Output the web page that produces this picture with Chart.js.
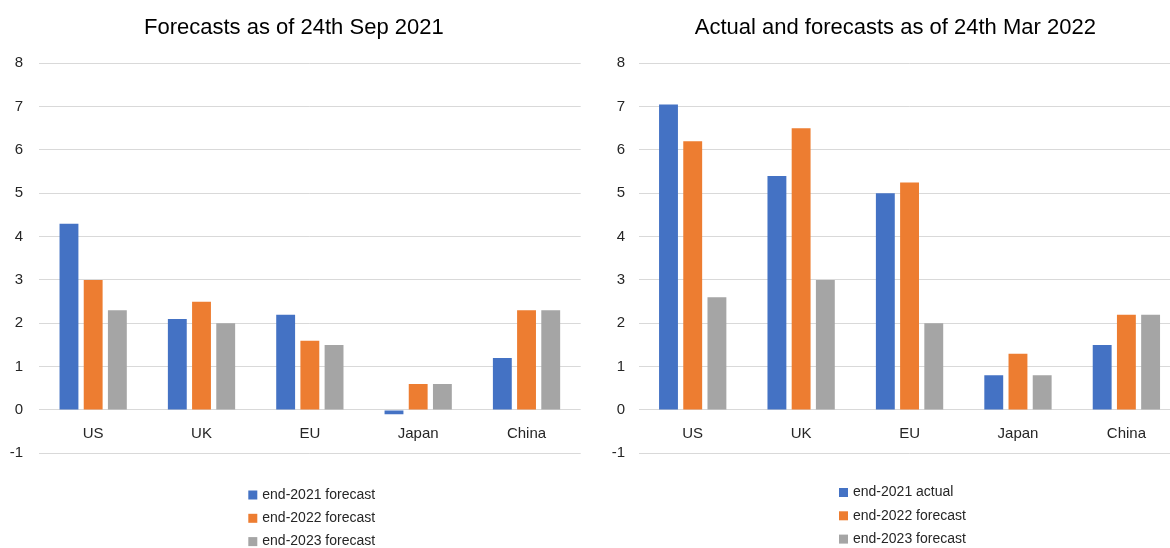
<!DOCTYPE html>
<html>
<head>
<meta charset="utf-8">
<script src="https://cdn.jsdelivr.net/npm/chart.js@4.4.1/dist/chart.umd.min.js"></script>
<style>
  html, body { margin: 0; padding: 0; background: #fff; overflow: hidden; width: 1170px; height: 548px; }
  .panel { position: absolute; top: 0; height: 548px; }
  #leftBox { left: 0; width: 585px; }
  #rightBox { left: 585px; width: 600px; }
</style>
</head>
<body>
<div class="panel" id="leftBox"><canvas id="chartSep" width="585" height="548"></canvas></div>
<div class="panel" id="rightBox"><canvas id="chartMar" width="600" height="548"></canvas></div>
<script>
// data
const categories = ['US', 'UK', 'EU', 'Japan', 'China'];
const yTicks = [-1, 0, 1, 2, 3, 4, 5, 6, 7, 8];

const sepTitle = 'Forecasts as of 24th Sep 2021';
const sepLabels = ['end-2021 forecast', 'end-2022 forecast', 'end-2023 forecast'];
const sep2021 = [4.3, 2.1, 2.2, -0.1, 1.2];
const sep2022 = [3.0, 2.5, 1.6, 0.6, 2.3];
const sep2023 = [2.3, 2.0, 1.5, 0.6, 2.3];

const marTitle = 'Actual and forecasts as of 24th Mar 2022';
const marLabels = ['end-2021 actual', 'end-2022 forecast', 'end-2023 forecast'];
const mar2021 = [7.05, 5.4, 5.0, 0.8, 1.5];
const mar2022 = [6.2, 6.5, 5.25, 1.3, 2.2];
const mar2023 = [2.6, 3.0, 2.0, 0.8, 2.2];

const colors = ['#4472C4', '#ED7D31', '#A5A5A5'];
const FONT = '"Liberation Sans", Arial, sans-serif';
const TXT = '#262626';

// legend stacked vertically under the plot, like Excel's
const boxLegend = {
  id: 'boxLegend',
  afterDraw(chart, args, opts) {
    const ctx = chart.ctx;
    ctx.save();
    ctx.font = '14px ' + FONT;
    ctx.textBaseline = 'middle';
    ctx.textAlign = 'left';
    chart.data.datasets.forEach((ds, i) => {
      const y = opts.y + i * opts.gap;
      ctx.fillStyle = ds.backgroundColor;
      ctx.fillRect(opts.x, y - 4.5, 9, 9);
      ctx.fillStyle = TXT;
      ctx.fillText(ds.label, opts.x + 14, y);
    });
    ctx.restore();
  }
};

function makeBarChart(canvas, title, labels, series, lay) {
  return new Chart(canvas.getContext('2d'), {
    type: 'bar',
    data: {
      labels: categories,
      datasets: series.map((vals, i) => ({
        label: labels[i],
        data: vals,
        backgroundColor: colors[i],
        barPercentage: 0.78,
        categoryPercentage: 0.67
      }))
    },
    plugins: [boxLegend],
    options: {
      responsive: false,
      animation: false,
      devicePixelRatio: 1,
      events: [],
      layout: { padding: { left: lay.padLeft, right: lay.padRight, top: 0, bottom: 94.7 } },
      plugins: {
        legend: { display: false },
        tooltip: { enabled: false },
        title: {
          display: true,
          text: title,
          color: '#000',
          font: { family: FONT, size: 22, weight: 'normal' },
          padding: { top: 15, bottom: 21.9 }
        },
        boxLegend: { x: lay.legX, y: lay.legY, gap: 23.3 }
      },
      scales: {
        x: {
          type: 'category',
          position: { y: 0 },
          grid: { display: false },
          border: { display: false },
          ticks: { color: TXT, font: { family: FONT, size: 15 }, padding: 7 }
        },
        y: {
          min: yTicks[0],
          max: yTicks[yTicks.length - 1],
          afterFit: s => { s.width = lay.axisW; },
          grid: { color: '#D9D9D9', lineWidth: 1, drawTicks: false },
          border: { display: false },
          ticks: {
            stepSize: 1,
            color: TXT,
            padding: lay.tickPad,
            font: { family: FONT, size: 15 }
          }
        }
      }
    }
  });
}

makeBarChart(document.getElementById('chartSep'), sepTitle, sepLabels,
  [sep2021, sep2022, sep2023],
  { padLeft: 7, padRight: 4.3, axisW: 32, tickPad: 16, legX: 248.3, legY: 495 });

makeBarChart(document.getElementById('chartMar'), marTitle, marLabels,
  [mar2021, mar2022, mar2023],
  { padLeft: 25, padRight: 4.4, axisW: 28.5, tickPad: 13.5, legX: 254, legY: 492.5 });
</script>
</body>
</html>
